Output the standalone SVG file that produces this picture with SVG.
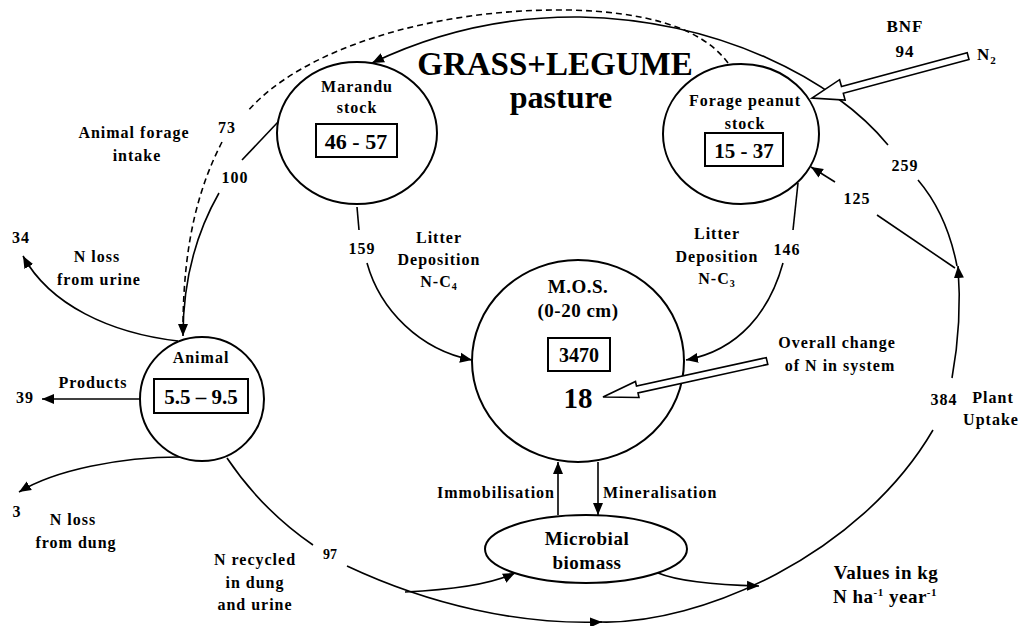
<svg xmlns="http://www.w3.org/2000/svg" width="1027" height="626" viewBox="0 0 1027 626">
<style>
.t{font-family:"Liberation Serif","Times New Roman",serif;font-weight:bold;font-size:16px;letter-spacing:1px;text-anchor:middle;fill:#000}
.big{font-size:21px;letter-spacing:0}
.sh{fill:#fff;stroke:#000;stroke-width:2}
.ln{fill:none;stroke:#000;stroke-width:1.6}
.ah{marker-end:url(#ar)}
.dash{stroke-dasharray:6,4}
.hol{fill:#fff;stroke:#000;stroke-width:1.6;stroke-linejoin:miter}
</style>
<defs>
<marker id="ar" markerUnits="userSpaceOnUse" markerWidth="13" markerHeight="11" refX="12" refY="5" orient="auto" viewBox="0 0 13 10">
<path d="M0,0 L12,5 L0,10 z" fill="#000"/>
</marker>
</defs>
<rect width="1027" height="626" fill="#fff"/>

<g id="connectors">
<path class="ln ah" d="M888,145 C835,80 720,20 580,17 C490,16 420,40 372,63"/>
<path class="ln dash" d="M728,63 C700,25 640,12 570,10 C430,8 300,50 247,112"/>
<path class="ln dash" d="M222,142 C200,185 183,240 183,330"/>
<path class="ln" d="M278,122 L242,160"/>
<path class="ln ah" d="M219,193 C195,235 183,280 183,336"/>
<path class="ln ah" d="M178,341 C110,333 50,305 23,256"/>
<path class="ln ah" d="M140,399 L42,399"/>
<path class="ln ah" d="M180,457 C120,457 55,470 19,492"/>
<path class="ln" d="M227,458 Q262,510 313,545"/>
<path class="ln ah" d="M347,566 C430,605 520,625 602,622"/>
<path class="ln" d="M600,622 C700,625 860,555 933,430"/>
<path class="ln ah" d="M952,378 C958,345 961,305 958,266"/>
<path class="ln" d="M957,266 C950,230 935,200 918,180"/>
<path class="ln" d="M955,268 L877,215"/>
<path class="ln ah" d="M835,182 L811,167"/>
<path class="ln ah" d="M405,592 C450,590 490,585 515,573"/>
<path class="ln ah" d="M658,573 C680,582 720,585 759,586"/>
<path class="ln" d="M357,207 L359,230"/>
<path class="ln ah" d="M367,263 C380,310 420,350 472,360"/>
<path class="ln" d="M798,183 L793,230"/>
<path class="ln ah" d="M783,263 C770,310 740,350 686,360"/>
<path class="ln ah" d="M558,515 L558,462"/>
<path class="ln ah" d="M598,462 L598,515"/>
</g>

<g id="title">
<text class="t" x="555" y="75" style="font-size:33px;letter-spacing:0">GRASS+LEGUME</text>
<text class="t" x="561" y="108" style="font-size:32px;letter-spacing:0">pasture</text>
</g>

<g id="marandu">
<ellipse class="sh" cx="357" cy="133" rx="80" ry="71"/>
<text class="t" x="357" y="92">Marandu</text>
<text class="t" x="357" y="113">stock</text>
<rect x="316" y="124" width="81" height="33" fill="#fff" stroke="#000" stroke-width="2"/>
<text class="t big" x="356" y="149" style="font-size:22px">46 - 57</text>
</g>

<g id="forage-peanut">
<ellipse class="sh" cx="741" cy="134" rx="78" ry="70"/>
<text class="t" x="745" y="106">Forage peanut</text>
<text class="t" x="745" y="129">stock</text>
<rect x="705" y="133" width="78" height="33" fill="#fff" stroke="#000" stroke-width="2"/>
<text class="t big" x="744" y="158">15 - 37</text>
</g>

<g id="mos">
<ellipse class="sh" cx="578" cy="361" rx="106" ry="101"/>
<text class="t" x="578" y="293" style="font-size:19px;letter-spacing:0.5px">M.O.S.</text>
<text class="t" x="578" y="317" style="font-size:19px;letter-spacing:0.5px">(0-20 cm)</text>
<rect x="548" y="338" width="62" height="33" fill="#fff" stroke="#000" stroke-width="2"/>
<text class="t" x="579" y="362" style="font-size:20px;letter-spacing:0">3470</text>
<text class="t" x="578" y="408" style="font-size:29px;letter-spacing:0">18</text>
</g>

<g id="animal">
<ellipse class="sh" cx="202" cy="399" rx="62" ry="62"/>
<text class="t" x="201" y="363">Animal</text>
<rect x="154" y="379" width="94" height="34" fill="#fff" stroke="#000" stroke-width="2"/>
<text class="t big" x="201" y="404">5.5 – 9.5</text>
</g>

<g id="microbial">
<ellipse class="sh" cx="586" cy="549" rx="101" ry="34"/>
<text class="t" x="587" y="545" style="font-size:19px;letter-spacing:0.5px">Microbial</text>
<text class="t" x="587" y="569" style="font-size:19px;letter-spacing:0.5px">biomass</text>
</g>

<g id="hollow-arrows">
<path class="hol" d="M969,59.5 L843.3,93.3 L845.1,100.1 L812,98 L839.6,79.7 L841.5,86.5 L967.2,52.7 Z"/>
<path class="hol" d="M767.8,364.4 L638,392.9 L639,397.5 L603,397 L635.5,381.5 L636.5,386.1 L766.2,357.6 Z"/>
</g>

<g id="labels">
<text class="t" x="905" y="32" style="font-size:17px">BNF</text>
<text class="t" x="905" y="57" style="font-size:17px">94</text>
<text class="t" x="977" y="60" style="text-anchor:start;font-size:17px">N<tspan font-size="11" dy="4">2</tspan></text>
<text class="t" x="134" y="138">Animal forage</text>
<text class="t" x="137" y="161">intake</text>
<text class="t" x="227" y="133">73</text>
<text class="t" x="235" y="183">100</text>
<text class="t" x="21" y="243">34</text>
<text class="t" x="97" y="262">N loss</text>
<text class="t" x="99" y="285">from urine</text>
<text class="t" x="93" y="388">Products</text>
<text class="t" x="25" y="403">39</text>
<text class="t" x="17" y="517">3</text>
<text class="t" x="73" y="525">N loss</text>
<text class="t" x="76" y="548">from dung</text>
<text class="t" x="330" y="559" style="font-size:14px;letter-spacing:0">97</text>
<text class="t" x="255" y="565">N recycled</text>
<text class="t" x="255" y="588">in dung</text>
<text class="t" x="255" y="610">and urine</text>
<text class="t" x="362" y="254">159</text>
<text class="t" x="439" y="243">Litter</text>
<text class="t" x="439" y="265">Deposition</text>
<text class="t" x="439" y="287">N-C<tspan font-size="10" dy="3">4</tspan></text>
<text class="t" x="717" y="239">Litter</text>
<text class="t" x="717" y="262">Deposition</text>
<text class="t" x="717" y="284">N-C<tspan font-size="10" dy="3">3</tspan></text>
<text class="t" x="787" y="255">146</text>
<text class="t" x="905" y="171">259</text>
<text class="t" x="857" y="204">125</text>
<text class="t" x="944" y="405">384</text>
<text class="t" x="993" y="403">Plant</text>
<text class="t" x="991" y="425">Uptake</text>
<text class="t" x="837" y="348">Overall change</text>
<text class="t" x="840" y="371">of N in system</text>
<text class="t" x="555" y="498" style="text-anchor:end">Immobilisation</text>
<text class="t" x="603" y="498" style="text-anchor:start">Mineralisation</text>
<text class="t" x="886" y="579" style="font-size:19px;letter-spacing:0.5px">Values in kg</text>
<text class="t" x="885" y="603" style="font-size:19px;letter-spacing:0.5px">N ha<tspan font-size="11" dy="-7">-1</tspan><tspan dy="7"> year</tspan><tspan font-size="11" dy="-7">-1</tspan></text>
</g>
</svg>
